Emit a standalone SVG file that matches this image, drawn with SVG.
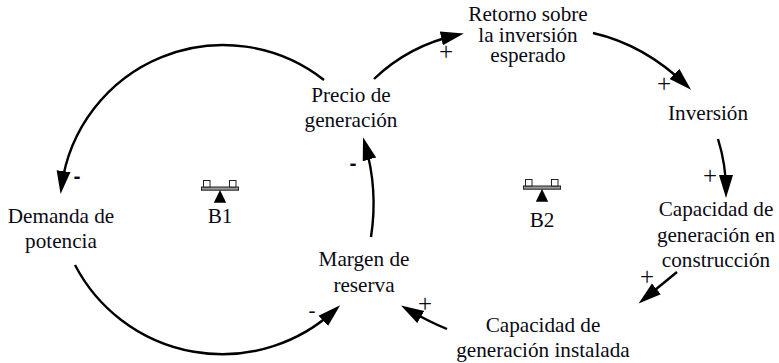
<svg xmlns="http://www.w3.org/2000/svg" width="779" height="363" viewBox="0 0 779 363">
<style>
text{font-family:"Liberation Serif","Times New Roman",serif;font-size:21.2px;fill:#0a0a14;text-anchor:middle}
.c{fill:none;stroke:#000;stroke-width:2.4;marker-end:url(#a)}
.s{font-size:25px}
.m{font-family:"Liberation Sans",sans-serif;font-weight:bold;font-size:21px}
</style>
<defs>
<marker id="a" markerUnits="userSpaceOnUse" markerWidth="26" markerHeight="16" refX="16" refY="7.5" orient="auto" viewBox="0 0 26 16"><path d="M0,0.5L23,7.5L0,14.5Z" fill="#000"/></marker>
<g id="seesaw"><rect x="-18.5" y="0" width="37" height="3.2" fill="#999" stroke="#222" stroke-width="1"/><rect x="-16.5" y="-6.5" width="6.5" height="6.5" fill="#fff" stroke="#222" stroke-width="1"/><rect x="9.5" y="-6.5" width="6.5" height="6.5" fill="#fff" stroke="#222" stroke-width="1"/><path d="M0,3L6.2,15.8L-6.2,15.8Z" fill="#000"/></g>
</defs>
<g id="connectors">
<path class="c" d="M324,80A163,163 0 0 0 61.5,187"/>
<path class="c" d="M75,265A166,166 0 0 0 335,310"/>
<path class="c" d="M371,237C376,205 374,175 365,144"/>
<path class="c" d="M374,79C398,56 425,42 457,35"/>
<path class="c" d="M593,33C628,41 658,58 686,85"/>
<path class="c" d="M718,139C723,155 726,172 726,191"/>
<path class="c" d="M677,272L644,299"/>
<path class="c" d="M447,329C432,323 419,316 407,309"/>
</g>
<g id="precio"><text x="351" y="102">Precio de</text><text x="351" y="127">generación</text></g>
<g id="retorno"><text x="528" y="21">Retorno sobre</text><text x="528" y="42">la inversión</text><text x="528" y="62">esperado</text></g>
<g id="inversion"><text x="708" y="120">Inversión</text></g>
<g id="construccion"><text x="716" y="216">Capacidad de</text><text x="716" y="242">generación en</text><text x="716" y="267">construcción</text></g>
<g id="instalada"><text x="543" y="332">Capacidad de</text><text x="543" y="357">generación instalada</text></g>
<g id="margen"><text x="364" y="266">Margen de</text><text x="364" y="292">reserva</text></g>
<g id="demanda"><text x="61" y="223">Demanda de</text><text x="61" y="248">potencia</text></g>
<g id="b1"><use href="#seesaw" x="220" y="187"/><text x="220" y="223">B1</text></g>
<g id="b2"><use href="#seesaw" x="542" y="186"/><text x="542" y="227">B2</text></g>
<g id="signs">
<text class="s" x="446" y="60">+</text>
<text class="s" x="664" y="92">+</text>
<text class="s" x="710" y="184">+</text>
<text class="s" x="647" y="285">+</text>
<text class="s" x="425" y="312">+</text>
<text class="m" x="77" y="183">-</text>
<text class="m" x="353" y="170">-</text>
<text class="s" x="312" y="317" style="font-size:21px">-</text>
</g>
</svg>
